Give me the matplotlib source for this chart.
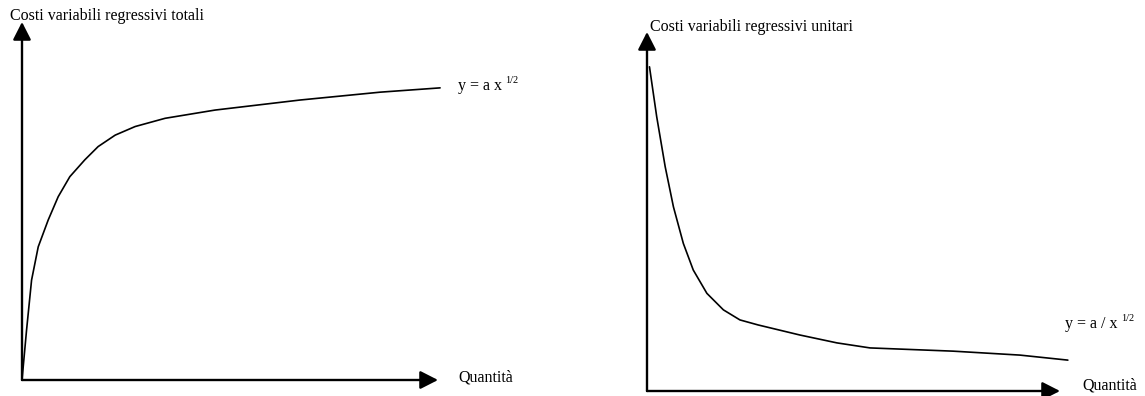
import matplotlib
matplotlib.use("Agg")
import matplotlib.pyplot as plt

# values, in % of each axis length
tot_x = [0, 1.1, 2.3, 3.9, 6.3, 8.7, 11.5, 15.1, 18.3, 22.4, 27.2, 34.4, 46.4,
         66.8, 86.1, 100.5]
tot_y = [0, 14.0, 27.9, 37.2, 44.7, 51.2, 56.8, 61.5, 65.2, 68.4, 70.8, 73.1, 75.4,
         78.2, 80.4, 81.6]

uni_x = [0.6, 2.35, 4.4, 6.4, 8.8, 11.2, 14.5, 18.5, 22.5, 26.9, 37.0, 46.0, 54.0,
         74.1, 90.3, 101.9]
uni_y = [90.3, 76.4, 62.5, 51.3, 41.1, 33.7, 27.2, 22.6, 19.8, 18.4, 15.6, 13.4, 12.0,
         11.1, 10.0, 8.6]

titles = ["Costi variabili regressivi totali", "Costi variabili regressivi unitari"]
formulas = ["y = a x", "y = a / x"]
exponent = "1/2"
xlabel = "Quantità"

plt.rcParams['font.family'] = ['Liberation Serif', 'DejaVu Serif']

W, H = 1145, 396
fig = plt.figure(figsize=(W / 100, H / 100), dpi=100)


def panel(x0, y0, x1, y1):
    # pixel box of the axis cross and arrow tips
    ax = fig.add_axes([x0 / W, (H - y0) / H, (x1 - x0) / W, (y0 - y1) / H])
    ax.set_xlim(0, 100)
    ax.set_ylim(0, 100)
    ax.axis('off')
    style = '-|>,head_length=1.08,head_width=0.55'
    for tip in [(100, 0), (0, 100)]:
        ax.annotate('', xy=tip, xytext=(0, 0),
                    arrowprops=dict(arrowstyle=style, lw=1.7, color='black',
                                    shrinkA=0, shrinkB=0),
                    annotation_clip=False)
    return ax


ax1 = panel(22, 380, 438, 22)
ax1.plot(tot_x, tot_y, color='black', lw=1.2, clip_on=False,
         solid_joinstyle='round', solid_capstyle='round')

ax2 = panel(647, 391, 1060, 32)
ax2.plot(uni_x, uni_y, color='black', lw=1.2, clip_on=False,
         solid_joinstyle='round', solid_capstyle='round')

fs = 11.5
fig.text(10 / W, 1 - 16 / H, titles[0], fontsize=fs, va='center', ha='left')
fig.text(650 / W, 1 - 27 / H, titles[1], fontsize=fs, va='center', ha='left')
fig.text(458 / W, 1 - 378 / H, xlabel, fontsize=fs, va='center', ha='left')
fig.text(1082 / W, 1 - 386 / H, xlabel, fontsize=fs, va='center', ha='left')

for (px, py), f in zip([(458, 86), (1065, 324)], formulas):
    t = fig.text(px / W, 1 - py / H, f, fontsize=fs, va='center', ha='left')
    plt.annotate(exponent, xy=(1, 0.55), xycoords=t, xytext=(2.5, 0),
                 textcoords='offset points', fontsize=7.5, va='bottom', ha='left')

fig.savefig('out.png', dpi=100, facecolor='white')
